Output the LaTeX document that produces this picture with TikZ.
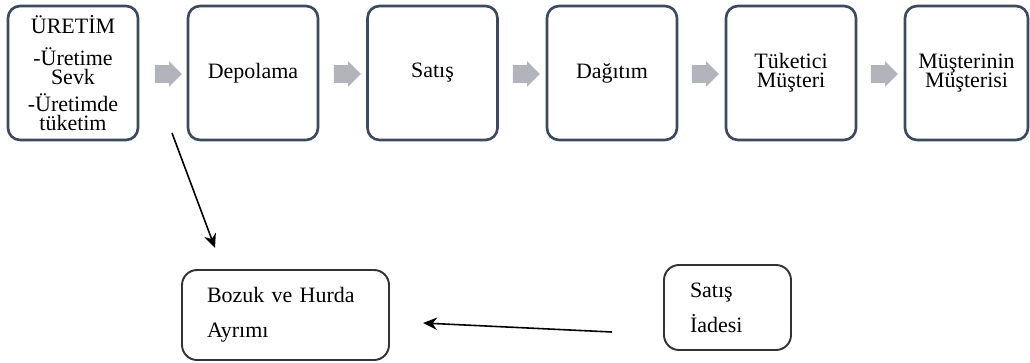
\documentclass[tikz,border=0pt]{standalone}
\usepackage{fontspec}
\setmainfont{Liberation Serif}
\newfontfamily\boxfont{Liberation Serif}
\usetikzlibrary{shapes.arrows, arrows.meta}
\definecolor{boxline}{HTML}{3B4A5E}
\definecolor{flowgray}{HTML}{B1B4BA}
\definecolor{lowline}{HTML}{333333}
\tikzset{>={Stealth[length=8pt,width=7pt]}}
\tikzset{topbox/.style={draw=boxline, line width=1.5pt, rounded corners=0.24cm,
    minimum width=2.6cm, minimum height=2.68cm, align=center, inner sep=2pt,
    font=\boxfont\fontsize{12.5}{11}\selectfont}}
\tikzset{flow/.style={single arrow, fill=flowgray, draw=none, inner sep=0.17cm,
    minimum height=0.54cm, minimum width=0.5cm, single arrow head extend=0.08cm}}
\tikzset{lowbox/.style={draw=lowline, line width=1.1pt, rounded corners=0.3cm,
    align=left, font=\boxfont\fontsize{12.5}{20}\selectfont}}

\begin{document}
\begin{tikzpicture}[x=0.02cm, y=-0.02cm]
    \useasboundingbox (0,0) rectangle (1030,362);
    % top row
    \node [topbox] (uretim) at (73,73) {ÜRETİM\\[7pt]-Üretime\\Sevk\\[4.3pt]-Üretimde\\tüketim};
    \node [topbox] (depo) at (253,73) {Depolama};
    \node [topbox] (satis) at (432.5,73) {Satış};
    \node [topbox] (dagitim) at (612,73) {Dağıtım};
    \node [topbox] (tuketici) at (791,73) {Tüketici\\Müşteri};
    \node [topbox, minimum width=2.46cm] (musteri) at (966.5,73) {Müşterinin\\Müşterisi};
    \node [flow] (ok1) at (164,74) {};
    \node [flow] (ok2) at (343,74) {};
    \node [flow] (ok3) at (522,74) {};
    \node [flow] (ok4) at (701,74) {};
    \node [flow] (ok5) at (880,74) {};
    % bottom row
    \node [lowbox, minimum width=4.14cm, minimum height=1.8cm, text width=3.14cm, inner xsep=0.5cm] (bozuk) at (285.5,315) {Bozuk ve Hurda\\Ayrımı};
    \node [lowbox, minimum width=2.54cm, minimum height=1.7cm, text width=1.5cm, inner xsep=0.52cm] (iade) at (727.5,307.5) {Satış\\İadesi};
    \coordinate (d0) at (172,133);
    \coordinate (d1) at (215,248);
    \coordinate (r0) at (612,332);
    \coordinate (r1) at (423,323);
    \draw [->, line width=0.9pt] (d0) -- (d1);
    \draw [->, line width=0.9pt] (r0) -- (r1);
\end{tikzpicture}
\end{document}
